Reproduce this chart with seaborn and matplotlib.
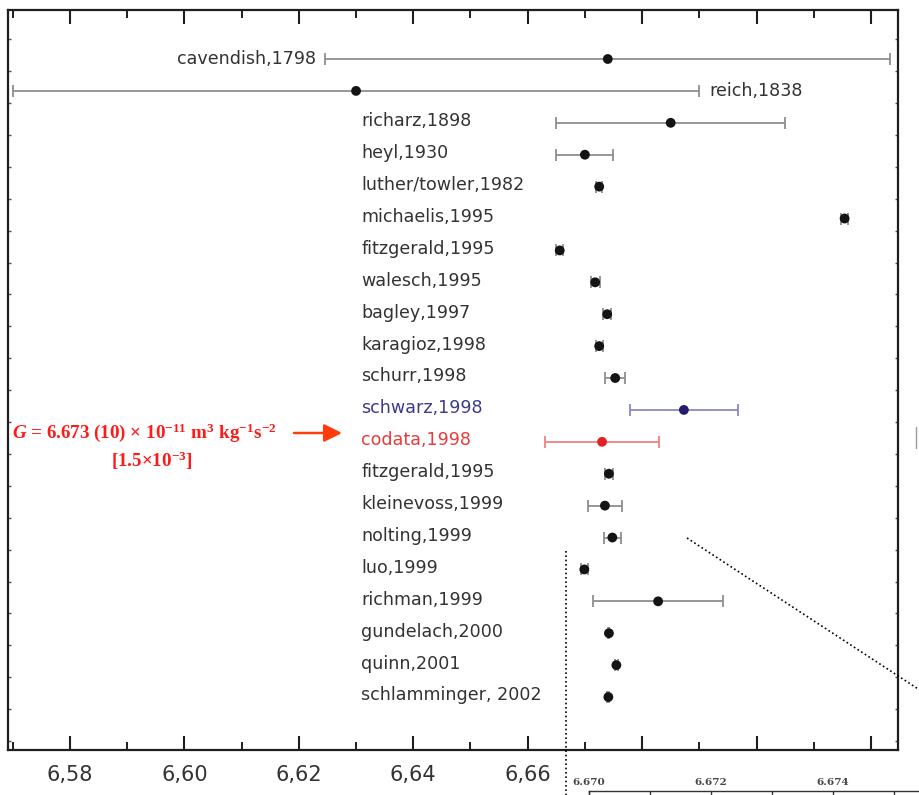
import numpy as np
import pandas as pd
import seaborn as sns
import matplotlib
matplotlib.use("Agg")
import matplotlib.pyplot as plt
from matplotlib.lines import Line2D
from matplotlib.ticker import FixedLocator, NullFormatter

# ---------------- data ----------------
labels = ["cavendish,1798", "reich,1838", "richarz,1898", "heyl,1930",
          "luther/towler,1982", "michaelis,1995", "fitzgerald,1995",
          "walesch,1995", "bagley,1997", "karagioz,1998", "schurr,1998",
          "schwarz,1998", "codata,1998", "fitzgerald,1995", "kleinevoss,1999",
          "nolting,1999", "luo,1999", "richman,1999", "gundelach,2000",
          "quinn,2001", "schlamminger, 2002"]
values = [6.6740, 6.6300, 6.6850, 6.6700, 6.6725, 6.7154, 6.6656, 6.6718,
          6.6739, 6.6725, 6.6753, 6.6873, 6.6730, 6.6742, 6.6735, 6.6748,
          6.6699, 6.6828, 6.6742, 6.6755, 6.6741]
errors = [0.0494, 0.0600, 0.0200, 0.0050, 0.0005, 0.0006, 0.0006, 0.0008,
          0.0007, 0.0006, 0.0017, 0.0094, 0.0100, 0.0007, 0.0030, 0.0015,
          0.0006, 0.0114, 0.0001, 0.0003, 0.0002]
groups = ["data"] * 11 + ["schwarz", "codata"] + ["data"] * 8

main_ticks = [6.58, 6.60, 6.62, 6.64, 6.66, 6.68, 6.70, 6.72]
main_ticklabels = ["6,58", "6,60", "6,62", "6,64", "6,66", "", "", ""]
inset_ticks = [6.670, 6.671, 6.672, 6.673, 6.674, 6.675, 6.676, 6.677]
inset_ticklabels = ["6.670", "", "6.672", "", "6.674", "", "", ""]

df = pd.DataFrame({"label": labels, "value": values, "err": errors,
                   "group": groups})
df["row"] = np.arange(len(df))

dot_colors = {"data": "#141414", "schwarz": "#231c6e", "codata": "#e02222"}
bar_colors = {"data": "#8e8e8e", "schwarz": "#8a88c6", "codata": "#f08080"}
txt_colors = {"data": "#333333", "schwarz": "#3d3b8c", "codata": "#e83c3c"}

# ---------------- style ----------------
sns.set_theme(style="white")
plt.rcParams["font.family"] = ["DejaVu Sans"]
plt.rcParams["mathtext.fontset"] = "custom"
plt.rcParams["mathtext.rm"] = "Liberation Serif:bold"
plt.rcParams["mathtext.it"] = "Liberation Serif:italic:bold"
plt.rcParams["mathtext.bf"] = "Liberation Serif:bold"

W, H = 920, 795
fig = plt.figure(figsize=(W / 100, H / 100), dpi=100)
fig.patch.set_facecolor("white")

x0, x1 = 8, 898
y0, y1 = 10, 750
ax = fig.add_axes([x0 / W, 1 - y1 / H, (x1 - x0) / W, (y1 - y0) / H])

# error bars
for g, sub in df.groupby("group"):
    ax.errorbar(sub["value"], sub["row"], xerr=sub["err"], fmt="none",
                ecolor=bar_colors[g], elinewidth=1.3, capsize=4.4,
                capthick=1.3, zorder=2)

sns.scatterplot(data=df, x="value", y="row", hue="group",
                palette=dot_colors, s=50, edgecolor="none", legend=False,
                ax=ax, zorder=3)

ax.set_xlim(6.56916, 6.72473)
ax.set_ylim(21.66, -1.536)
ax.set_xlabel("")
ax.set_ylabel("")

# labels
LFS = 12.6
xlab = 6.63089
for _, r in df.iterrows():
    c = txt_colors[r["group"]]
    if r["row"] == 0:
        ax.annotate(r["label"], (r["value"] - r["err"], r["row"]),
                    xytext=(-9, 0), textcoords="offset pixels", ha="right",
                    va="center", fontsize=LFS, color=c)
    elif r["row"] == 1:
        ax.annotate(r["label"], (r["value"] + r["err"], r["row"]),
                    xytext=(10, 0), textcoords="offset pixels", ha="left",
                    va="center", fontsize=LFS, color=c)
    else:
        ax.text(xlab, r["row"] - 0.05, r["label"], ha="left", va="center",
                fontsize=LFS, color=c)

# axes frame / ticks
for s in ax.spines.values():
    s.set_visible(True)
    s.set_color("#1e1e1e")
    s.set_linewidth(1.6)
ax.xaxis.set_major_locator(FixedLocator(main_ticks))
ax.set_xticklabels(main_ticklabels)
ax.xaxis.set_minor_locator(FixedLocator([6.57 + 0.02 * k for k in range(8)]))
ax.tick_params(axis="x", which="major", direction="in", length=10, width=1.5,
               top=True, bottom=True, colors="#1e1e1e", labelsize=15,
               labelcolor="#333333", pad=11)
ax.tick_params(axis="x", which="minor", direction="in", length=5.5,
               width=1.4, top=True, bottom=True, colors="#1e1e1e")
ax.yaxis.set_major_locator(FixedLocator([k + 0.38 for k in range(-1, 22)]))
ax.yaxis.set_major_formatter(NullFormatter())
ax.tick_params(axis="y", which="major", direction="in", length=2.5,
               width=1.0, left=True, right=True, colors="#555555")

# red annotation
fig.text(12 / W, 1 - 433 / H,
         r"$G$ = 6.673 (10) × 10$^{-11}$ m$^{3}$ kg$^{-1}$s$^{-2}$",
         family="Liberation Serif", weight="bold", color="#ff1a1a",
         fontsize=13.7, ha="left", va="center")
fig.text(152 / W, 1 - 461 / H, r"[1.5×10$^{-3}$]",
         family="Liberation Serif", weight="bold", color="#ff1a1a",
         fontsize=13.7, ha="center", va="center")
ax.annotate("", xy=(342 / W, 1 - 433 / H), xycoords="figure fraction",
            xytext=(294 / W, 1 - 433 / H), textcoords="figure fraction",
            arrowprops=dict(arrowstyle="-|>,head_length=0.9,head_width=0.45",
                            color="#ff3c0a", lw=1.8, shrinkA=0, shrinkB=0))

# zoom connector lines
fig.add_artist(Line2D([566 / W, 566 / W], [1 - 551 / H, 1 - 800 / H],
                      transform=fig.transFigure, color="black", lw=1.2,
                      ls=(0, (1, 1.6))))
fig.add_artist(Line2D([687 / W, 935 / W], [1 - 538 / H, 1 - 700 / H],
                      transform=fig.transFigure, color="black", lw=1.2,
                      ls=(0, (1, 1.6))))
fig.add_artist(Line2D([916 / W, 916 / W], [1 - 427 / H, 1 - 448 / H],
                      transform=fig.transFigure, color="#9a9a9a", lw=1.0))

# partially visible inset axes at the bottom right
ax2 = fig.add_axes([589 / W, -0.3, 0.6, 0.3 + 4 / H])
ax2.set_xlim(6.670, 6.670 + 0.6 * W / 61000)
ax2.set_ylim(0, 1)
for k, s in ax2.spines.items():
    s.set_visible(k in ("top", "left"))
    s.set_color("#333333")
    s.set_linewidth(1.0)
ax2.xaxis.tick_top()
ax2.xaxis.set_major_locator(FixedLocator(inset_ticks))
ax2.set_xticklabels(inset_ticklabels, family="DejaVu Serif", weight="bold",
                    fontsize=7.5, color="#444444")
ax2.tick_params(axis="x", direction="in", length=8, width=1.0, pad=3,
                colors="#333333", labelcolor="#444444")
ax2.set_yticks([])
ax2.patch.set_alpha(0)

fig.savefig("out.png", dpi=100, facecolor="white")
